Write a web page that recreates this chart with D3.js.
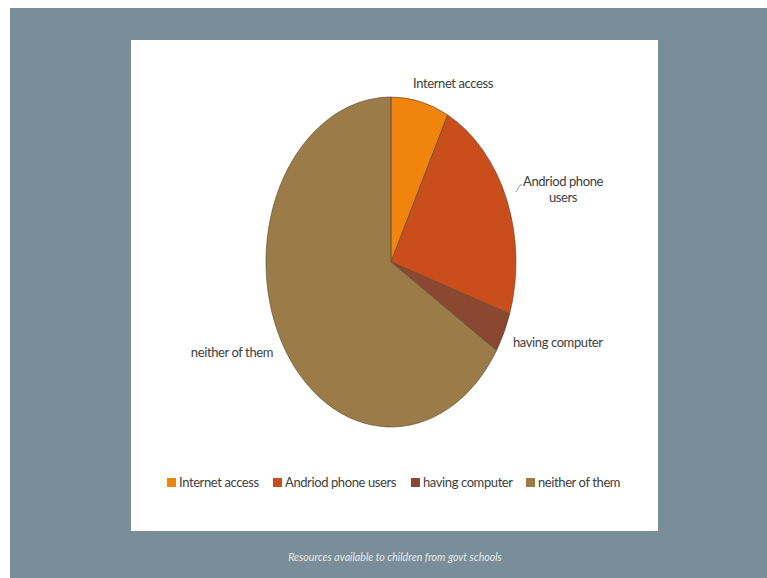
<!DOCTYPE html>
<html>
<head>
<meta charset="utf-8">
<script src="https://cdn.jsdelivr.net/npm/d3@7"></script>
<style>
  html, body { margin: 0; padding: 0; background: #fff; }
</style>
</head>
<body>
<div id="chart"></div>
<script>
// slices (percent)
const categories = ["Internet access", "Andriod phone users", "having computer", "neither of them"];
const values = [7.5, 22.6, 3.9, 66.0];
const sliceColors = ["#f0840c", "#c94e1b", "#8a4832", "#9b7c49"];
const caption = "Resources available to children from govt schools";

const W = 767, H = 578;

const svg = d3.select("#chart").append("svg")
    .attr("width", W)
    .attr("height", H);

// slide background
svg.append("rect")
    .attr("x", 10).attr("y", 8)
    .attr("width", W - 10).attr("height", H - 8)
    .attr("fill", "#7a8e99");

// white card
svg.append("rect")
    .attr("x", 131).attr("y", 40)
    .attr("width", 527).attr("height", 491)
    .attr("fill", "#ffffff");

// the pie is stretched vertically in the picture
const cx = 391, cy = 262, rx = 125, ry = 165;

const pie = d3.pie().sort(null).value(d => d.v);
const arcs = pie(values.map((v, i) => ({ v: v, name: categories[i], i: i })));
const arc = d3.arc().innerRadius(0).outerRadius(1);

const g = svg.append("g")
    .attr("transform", "translate(" + cx + "," + cy + ") scale(" + rx + "," + ry + ")");

g.selectAll("path")
    .data(arcs)
    .enter().append("path")
    .attr("d", arc)
    .attr("fill", (d, i) => sliceColors[i])
    .attr("stroke", "#5e4a2e")
    .attr("stroke-width", 0.8)
    .attr("stroke-opacity", 0.8)
    .attr("vector-effect", "non-scaling-stroke");

// data labels
const labelFont = "Lato, 'Liberation Sans', sans-serif";
const labels = [
  { lines: ["Internet access"], x: 453, y: 88, anchor: "middle" },
  { lines: ["Andriod phone", "users"], x: 563, y: 186, anchor: "middle" },
  { lines: ["having computer"], x: 513, y: 347, anchor: "start" },
  { lines: ["neither of them"], x: 273, y: 357, anchor: "end" }
];

labels.forEach(l => {
  const t = svg.append("text")
      .attr("x", l.x).attr("y", l.y)
      .attr("text-anchor", l.anchor)
      .attr("font-family", labelFont)
      .attr("font-size", 13)
      .attr("letter-spacing", -0.4)
      .attr("fill", "#404040");
  l.lines.forEach((s, k) => {
    t.append("tspan").attr("x", l.x).attr("dy", k === 0 ? 0 : 16).text(s);
  });
});

// small leader line for the phone label
svg.append("path")
    .attr("d", "M516,192 L520,185 L522,185")
    .attr("fill", "none")
    .attr("stroke", "#8c8c8c")
    .attr("stroke-width", 0.8);

// legend
const legendX = [167, 273, 411, 526];
const legend = svg.append("g");
categories.forEach((c, i) => {
  legend.append("rect")
      .attr("x", legendX[i]).attr("y", 478)
      .attr("width", 9).attr("height", 9)
      .attr("fill", sliceColors[i]);
  legend.append("text")
      .attr("x", legendX[i] + 12).attr("y", 487)
      .attr("font-family", labelFont)
      .attr("font-size", 13)
      .attr("letter-spacing", -0.4)
      .attr("fill", "#404040")
      .text(c);
});

// caption under the card
svg.append("text")
    .attr("x", 395).attr("y", 561)
    .attr("text-anchor", "middle")
    .attr("font-family", "Lato, 'Open Sans', sans-serif")
    .attr("font-style", "italic")
    .attr("font-size", 10.6)
    .attr("fill", "#e3e8eb")
    .text(caption);
</script>
</body>
</html>
